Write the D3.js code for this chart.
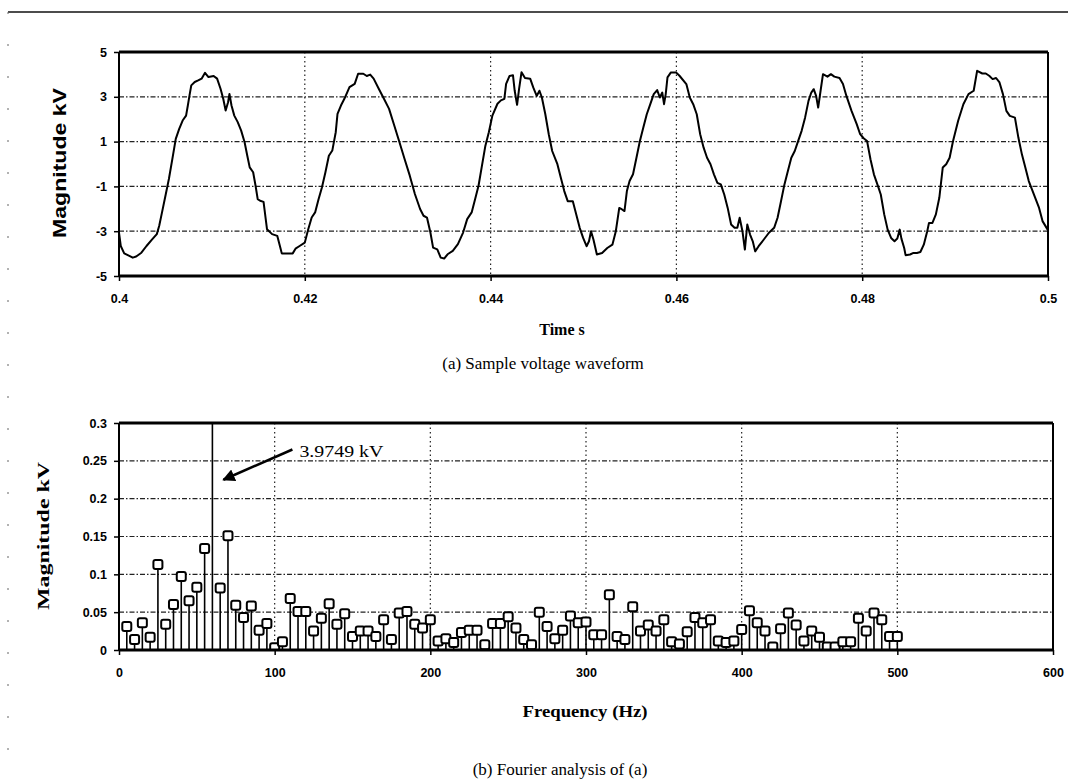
<!DOCTYPE html>
<html><head><meta charset="utf-8">
<script src="https://cdn.jsdelivr.net/npm/d3@7"></script>
<style>body{margin:0;background:#fff}svg{display:block}</style>
</head><body>
<svg id="c" width="1068" height="779"></svg>
<script>
// ---- Waveform (a): time in ms, voltage in kV ----
const time_ms = [400.0,400.19,400.56,401.11,401.48,401.85,402.41,402.96,403.52,404.07,404.33,404.63,405.0,405.37,405.74,406.11,406.48,406.85,407.22,407.41,407.59,407.78,408.15,408.52,408.89,409.26,409.63,410.19,410.56,410.93,411.22,411.48,411.74,411.89,412.11,412.41,412.78,413.15,413.52,413.81,414.07,414.44,414.7,414.93,415.19,415.56,415.93,416.48,417.04,417.41,417.52,417.96,418.7,419.0,419.44,420.0,420.37,420.74,421.11,421.48,421.85,422.22,422.59,422.96,423.33,423.52,423.89,424.26,424.81,425.37,425.74,426.3,426.67,427.04,427.41,427.96,428.52,429.07,429.63,430.19,430.74,431.3,431.85,432.41,432.78,433.15,433.52,433.81,434.26,434.63,435.0,435.37,435.93,436.48,437.04,437.48,437.96,438.33,438.7,439.07,439.44,439.81,440.19,440.74,441.11,441.48,441.67,442.04,442.41,442.59,442.85,443.07,443.33,443.7,444.26,
444.59,444.96,445.26,445.52,445.89,446.26,446.63,447.19,447.56,447.93,448.3,448.85,449.22,449.59,449.96,450.33,450.59,450.81,451.07,451.44,452.0,452.56,453.11,453.48,453.85,454.15,454.41,454.67,454.96,455.33,455.7,456.07,456.44,456.81,457.19,457.56,457.93,458.22,458.48,458.67,458.85,459.04,459.41,459.96,460.33,461.07,461.44,461.81,462.19,462.56,462.93,463.3,463.67,464.04,464.41,464.78,465.15,465.52,465.89,466.26,466.56,466.81,467.11,467.37,467.63,467.93,468.22,468.48,468.85,469.41,469.96,470.52,470.89,471.26,471.63,472.0,472.37,472.74,473.11,473.48,473.85,474.22,474.52,474.78,475.04,475.26,475.52,475.78,476.26,476.63,477.0,477.56,477.93,478.3,478.85,479.41,479.78,480.15,480.52,480.89,481.26,481.7,482.0,482.37,482.74,483.11,483.48,483.78,484.04,484.22,484.52,484.67,485.15,485.52,485.89,486.26,486.63,487.0,487.19,487.56,487.93,488.3,488.67,489.04,489.41,489.78,490.33,490.89,491.44,492.0,492.37,492.93,493.3,493.67,494.04,494.41,494.78,495.15,495.52,495.89,496.44,496.81,497.19,497.56,497.93,498.48,499.04,499.41,499.96];
const volts_kV = [-3.06,-3.66,-3.99,-4.10,-4.18,-4.13,-3.96,-3.66,-3.39,-3.13,-2.76,-2.16,-1.42,-0.67,0.22,1.12,1.57,1.94,2.16,2.61,3.06,3.51,3.66,3.73,3.81,4.07,3.88,3.93,3.81,3.36,2.91,2.39,2.76,3.13,2.61,2.16,1.87,1.49,0.97,0.37,-0.15,-0.37,-0.97,-1.57,-1.64,-1.69,-2.91,-3.13,-3.21,-3.81,-3.99,-3.99,-3.99,-3.78,-3.66,-3.51,-2.91,-2.39,-2.16,-1.57,-1.04,-0.37,0.37,0.60,1.42,2.24,2.61,2.91,3.43,3.58,4.03,4.03,3.93,3.99,3.81,3.36,2.91,2.46,1.72,0.97,0.22,-0.52,-1.34,-2.01,-2.31,-2.39,-3.06,-3.73,-3.81,-4.18,-4.22,-4.03,-3.88,-3.58,-3.06,-2.46,-2.16,-1.57,-0.97,-0.07,0.82,1.42,2.16,2.69,2.84,2.91,3.58,3.93,3.96,3.28,2.64,3.36,4.10,3.84,3.81,
3.42,3.04,3.27,2.97,2.22,1.33,0.58,-0.01,-0.61,-1.21,-1.66,-1.66,-2.25,-2.85,-3.30,-3.67,-3.45,-3.00,-3.37,-4.04,-3.97,-3.75,-3.60,-3.00,-1.96,-2.03,-2.10,-1.21,-0.76,-0.46,0.28,1.03,1.63,2.22,2.67,3.12,3.30,2.97,3.19,2.67,3.12,3.87,4.09,4.09,3.94,3.57,2.97,2.67,2.22,1.33,0.73,0.28,-0.01,-0.46,-0.84,-0.91,-1.36,-1.96,-2.70,-2.85,-2.85,-2.40,-3.00,-3.82,-2.70,-3.15,-3.45,-3.90,-3.67,-3.37,-3.07,-2.85,-2.40,-1.66,-0.91,-0.31,0.28,0.58,1.03,1.48,2.07,2.82,3.19,3.34,3.04,2.52,3.27,4.01,3.90,4.01,3.90,3.84,3.57,3.04,2.37,1.78,1.33,1.15,1.03,0.21,-0.46,-0.99,-1.36,-2.25,-2.93,-3.30,-3.45,-3.33,-2.93,-3.33,-3.75,-4.07,-4.04,-3.97,-3.97,-3.93,-3.60,-3.00,-2.63,-2.63,-2.25,-1.51,-0.16,-0.01,0.28,1.03,1.93,2.67,3.12,3.27,4.16,4.04,4.04,3.94,3.79,3.84,3.64,3.12,2.37,2.15,2.07,1.18,0.43,-0.16,-0.76,-1.36,-1.96,-2.55,-2.93];
const timeTicks = [0.4,0.42,0.44,0.46,0.48,0.5];
const timeTickLabels = ["0.4","0.42","0.44","0.46","0.48","0.5"];
const voltTicks = [5,3,1,-1,-3,-5];
const voltTickLabels = ["5","3","1","-1","-3","-5"];

// ---- Spectrum (b): frequency in Hz, magnitude in kV ----
const freq_Hz = [5,10,15,20,25,30,35,40,45,50,55,60,65,70,75,80,85,90,95,100,105,110,115,120,125,130,135,140,145,150,155,160,165,170,175,180,185,190,195,200,205,210,215,220,225,230,235,240,245,250,255,260,265,270,275,280,285,290,295,300,305,310,315,320,325,330,335,340,345,350,355,360,365,370,375,380,385,390,395,400,405,410,415,420,425,430,435,440,445,450,455,460,465,470,475,480,485,490,495,500];
const mag_kV = [0.031,0.014,0.036,0.017,0.113,0.034,0.060,0.097,0.065,0.083,0.134,3.9749,0.082,0.151,0.059,0.043,0.058,0.026,0.035,0.003,0.011,0.068,0.051,0.051,0.025,0.042,0.061,0.034,0.048,0.018,0.025,0.025,0.018,0.040,0.014,0.049,0.051,0.034,0.029,0.040,0.012,0.015,0.010,0.023,0.026,0.026,0.007,0.035,0.035,0.044,0.029,0.014,0.007,0.050,0.031,0.015,0.026,0.045,0.036,0.037,0.020,0.020,0.073,0.018,0.014,0.057,0.025,0.033,0.025,0.040,0.011,0.008,0.024,0.043,0.036,0.040,0.012,0.010,0.012,0.027,0.052,0.036,0.025,0.004,0.028,0.049,0.033,0.012,0.025,0.017,0.004,0.004,0.011,0.011,0.042,0.025,0.049,0.040,0.018,0.018];
const freqTicks = [0,100,200,300,400,500,600];
const magTicks = [0,0.05,0.1,0.15,0.2,0.25,0.3];
const magTickLabels = ["0","0.05","0.1","0.15","0.2","0.25","0.3"];
const fundamentalLabel = "3.9749 kV";

const svg = d3.select("#c");
const SANS = "'Liberation Sans', Arial, sans-serif";
const SERIF = "'Liberation Serif', 'Times New Roman', serif";

// page border (scan frame)
svg.append("line").attr("x1",8).attr("x2",1068).attr("y1",12).attr("y2",12).attr("stroke","#111").attr("stroke-width",1.5);
svg.append("line").attr("x1",8).attr("x2",8).attr("y1",12).attr("y2",779).attr("stroke","#666").attr("stroke-width",1).attr("stroke-dasharray","2,30");

function gridH(g, ys, x0, x1) {
  g.selectAll(null).data(ys).enter().append("line")
    .attr("x1",x0).attr("x2",x1).attr("y1",d=>d).attr("y2",d=>d)
    .attr("stroke","#222").attr("stroke-width",1.2).attr("stroke-dasharray","5,2,1.5,2");
}
function gridV(g, xs, y0, y1) {
  g.selectAll(null).data(xs).enter().append("line")
    .attr("x1",d=>d).attr("x2",d=>d).attr("y1",y0).attr("y2",y1)
    .attr("stroke","#222").attr("stroke-width",1.2).attr("stroke-dasharray","1.5,3");
}
function styleAxis(g) {
  g.select(".domain").remove();
  g.selectAll(".tick line").attr("stroke","#000").attr("stroke-width",1.5);
  g.selectAll(".tick text").attr("font-family",SANS).attr("font-weight","bold").attr("font-size",12.5).attr("fill","#000");
}

// ===== Chart (a) =====
{
  const x = d3.scaleLinear([0.4,0.5],[119,1048]);
  const y = d3.scaleLinear([-5,5],[276,52]);
  const g = svg.append("g");
  gridH(g, [3,1,-1,-3].map(y), x(0.4), x(0.5));
  gridV(g, timeTicks.slice(1,-1).map(x), y(5), y(-5));
  const line = d3.line().x((d,i)=>x(time_ms[i]/1000)).y(d=>y(d));
  g.append("path").datum(volts_kV).attr("d",line).attr("fill","none")
    .attr("stroke","#000").attr("stroke-width",2).attr("stroke-linejoin","round");
  // frame
  g.append("line").attr("x1",x(0.4)).attr("x2",x(0.5)).attr("y1",y(5)).attr("y2",y(5)).attr("stroke","#000").attr("stroke-width",3);
  g.append("line").attr("x1",x(0.4)).attr("x2",x(0.5)).attr("y1",y(-5)).attr("y2",y(-5)).attr("stroke","#000").attr("stroke-width",3);
  g.append("line").attr("x1",x(0.4)).attr("x2",x(0.4)).attr("y1",y(5)).attr("y2",y(-5)).attr("stroke","#000").attr("stroke-width",2);
  g.append("line").attr("x1",x(0.5)).attr("x2",x(0.5)).attr("y1",y(5)).attr("y2",y(-5)).attr("stroke","#000").attr("stroke-width",2);
  const ax = g.append("g").attr("transform",`translate(0,${y(-5)})`)
    .call(d3.axisBottom(x).tickValues(timeTicks).tickFormat((d,i)=>timeTickLabels[i]).tickSize(5).tickPadding(13));
  styleAxis(ax);
  const ay = g.append("g").attr("transform",`translate(${x(0.4)},0)`)
    .call(d3.axisLeft(y).tickValues(voltTicks).tickFormat((d,i)=>voltTickLabels[i]).tickSize(5).tickPadding(7));
  styleAxis(ay);
  g.append("text").attr("x",562).attr("y",335).attr("text-anchor","middle")
    .attr("font-family",SERIF).attr("font-weight","bold").attr("font-size",16).text("Time s");
  g.append("text").attr("transform","translate(66,163) rotate(-90)").attr("text-anchor","middle")
    .attr("font-family",SANS).attr("font-weight","bold").attr("font-size",18)
    .attr("textLength",150).attr("lengthAdjust","spacingAndGlyphs").text("Magnitude kV");
  g.append("text").attr("x",543).attr("y",369).attr("text-anchor","middle")
    .attr("font-family",SERIF).attr("font-size",17).text("(a) Sample voltage waveform");
}

// ===== Chart (b) =====
{
  const x = d3.scaleLinear([0,600],[119,1053]);
  const y = d3.scaleLinear([0,0.3],[650,423]);
  const g = svg.append("g");
  gridH(g, [0.05,0.1,0.15,0.2,0.25].map(y), x(0), x(600));
  gridV(g, freqTicks.slice(1,-1).map(x), y(0.3), y(0));
  svg.append("clipPath").attr("id","clipb").append("rect")
    .attr("x",x(0)).attr("y",y(0.3)).attr("width",x(600)-x(0)).attr("height",y(0)-y(0.3));
  const data = freq_Hz.map((f,i)=>({f, m: mag_kV[i]}));
  const marks = g.append("g").attr("clip-path","url(#clipb)");
  marks.selectAll("line.stem").data(data).enter().append("line").attr("class","stem")
    .attr("x1",d=>x(d.f)).attr("x2",d=>x(d.f)).attr("y1",y(0)).attr("y2",d=>y(Math.min(d.m,0.31)))
    .attr("stroke","#000").attr("stroke-width",1.6);
  const sq = 9;
  marks.selectAll("rect.mk").data(data.filter(d=>d.m<=0.3)).enter().append("rect").attr("class","mk")
    .attr("x",d=>x(d.f)-sq/2).attr("y",d=>y(d.m)-sq/2).attr("width",sq).attr("height",sq).attr("rx",2)
    .attr("fill","#fff").attr("stroke","#000").attr("stroke-width",2);
  // frame
  g.append("line").attr("x1",x(0)).attr("x2",x(600)).attr("y1",y(0.3)).attr("y2",y(0.3)).attr("stroke","#000").attr("stroke-width",3);
  g.append("line").attr("x1",x(0)).attr("x2",x(600)).attr("y1",y(0)).attr("y2",y(0)).attr("stroke","#000").attr("stroke-width",3);
  g.append("line").attr("x1",x(0)).attr("x2",x(0)).attr("y1",y(0.3)).attr("y2",y(0)).attr("stroke","#000").attr("stroke-width",2);
  g.append("line").attr("x1",x(600)).attr("x2",x(600)).attr("y1",y(0.3)).attr("y2",y(0)).attr("stroke","#000").attr("stroke-width",2);
  const ax = g.append("g").attr("transform",`translate(0,${y(0)})`)
    .call(d3.axisBottom(x).tickValues(freqTicks).tickFormat(d3.format("d")).tickSize(5).tickPadding(13));
  styleAxis(ax);
  const ay = g.append("g").attr("transform",`translate(${x(0)},0)`)
    .call(d3.axisLeft(y).tickValues(magTicks).tickFormat((d,i)=>magTickLabels[i]).tickSize(5).tickPadding(7));
  styleAxis(ay);
  // annotation
  const fund = data.find(d=>d.m>0.3);
  const ax0 = x(fund.f)+11, ay0 = y(0.225);
  svg.append("defs").append("marker").attr("id","arr").attr("viewBox","0 0 10 10").attr("refX",9).attr("refY",5)
    .attr("markerWidth",5).attr("markerHeight",5).attr("orient","auto")
    .append("path").attr("d","M0,0 L10,5 L0,10 Z").attr("fill","#000");
  g.append("line").attr("x1",x(fund.f)+80).attr("y1",y(0.265)).attr("x2",ax0).attr("y2",ay0)
    .attr("stroke","#000").attr("stroke-width",2.5).attr("marker-end","url(#arr)");
  g.append("text").attr("x",x(fund.f)+87).attr("y",y(0.255)).attr("font-family",SERIF).attr("font-size",17)
    .attr("textLength",84).attr("lengthAdjust","spacingAndGlyphs").text(fundamentalLabel);
  g.append("text").attr("x",585).attr("y",717).attr("text-anchor","middle")
    .attr("font-family",SERIF).attr("font-weight","bold").attr("font-size",17)
    .attr("textLength",125).attr("lengthAdjust","spacingAndGlyphs").text("Frequency (Hz)");
  g.append("text").attr("transform","translate(49,536) rotate(-90)").attr("text-anchor","middle")
    .attr("font-family",SERIF).attr("font-weight","bold").attr("font-size",17)
    .attr("textLength",148).attr("lengthAdjust","spacingAndGlyphs").text("Magnitude kV");
  g.append("text").attr("x",560).attr("y",775).attr("text-anchor","middle")
    .attr("font-family",SERIF).attr("font-size",17).text("(b) Fourier analysis of (a)");
}
</script>
</body></html>
